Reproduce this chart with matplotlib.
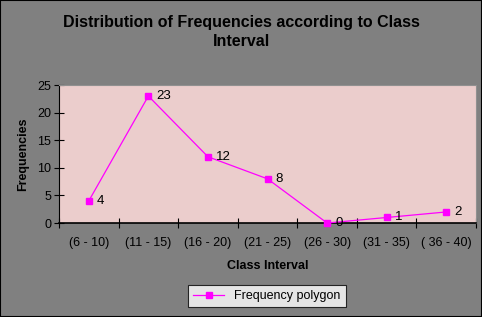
import matplotlib
matplotlib.use("Agg")
import matplotlib.pyplot as plt

plt.rcParams['font.family'] = ['Liberation Sans', 'DejaVu Sans']

classes = ["(6 - 10)", "(11 - 15)", "(16 - 20)", "(21 - 25)", "(26 - 30)", "(31 - 35)", "( 36 - 40)"]
freqs = [4, 23, 12, 8, 0, 1, 2]

fig = plt.figure(figsize=(4.82, 3.17), dpi=100, facecolor="#808080")
fig.patches.append(plt.Rectangle((0, 0), 1, 1, transform=fig.transFigure,
                                 fill=False, edgecolor="black", linewidth=1.5))
ax = fig.add_axes([59/482, 94/317, 417/482, 138/317])
ax.set_facecolor("#EBCDCC")

x = list(range(len(classes)))
ax.plot(x, freqs, color="#FF00FF", linewidth=0.9, marker="s", markersize=5,
        label="Frequency polygon", clip_on=False, zorder=3)
for xi, yi in zip(x, freqs):
    ax.annotate(str(yi), (xi, yi), xytext=(6, 0), textcoords="offset points",
                ha="left", va="center", fontsize=9.5)

ax.set_xlim(-0.5, len(classes) - 0.5)
ax.set_ylim(0, 25)
ax.set_yticks([0, 5, 10, 15, 20, 25])
ax.set_xticks([i - 0.5 for i in range(len(classes) + 1)])
ax.set_xticklabels([])
ax.set_xticks(x, minor=True)
ax.set_xticklabels(classes, minor=True, fontsize=9)
ax.tick_params(axis="x", which="minor", length=0, pad=10)
ax.tick_params(axis="x", which="major", direction="inout", length=7)
ax.tick_params(axis="y", direction="inout", length=7, labelsize=9, pad=2)

for s in ["top", "right"]:
    ax.spines[s].set_color("#909090")
ax.spines["left"].set_color("black")
ax.spines["bottom"].set_color("black")
ax.spines["bottom"].set_linewidth(1.2)

ax.set_ylabel("Frequencies", fontsize=9, fontweight="bold", labelpad=6)
ax.set_xlabel("Class Interval", fontsize=9, fontweight="bold", labelpad=8)
fig.text(0.5, 1 - 32/317, "Distribution of Frequencies according to Class\nInterval",
         ha="center", va="center", multialignment="center",
         fontsize=11.5, fontweight="bold", linespacing=1.25)

leg = ax.legend(loc="upper center", bbox_to_anchor=(267/482, 1 - 285/317),
                bbox_transform=fig.transFigure, frameon=True, fancybox=False,
                fontsize=9, handlelength=2.5, borderpad=0.4, borderaxespad=0)
leg.get_frame().set_edgecolor("black")
leg.get_frame().set_facecolor("white")
leg.get_frame().set_linewidth(0.8)

fig.savefig("out.png", dpi=100, facecolor=fig.get_facecolor())
